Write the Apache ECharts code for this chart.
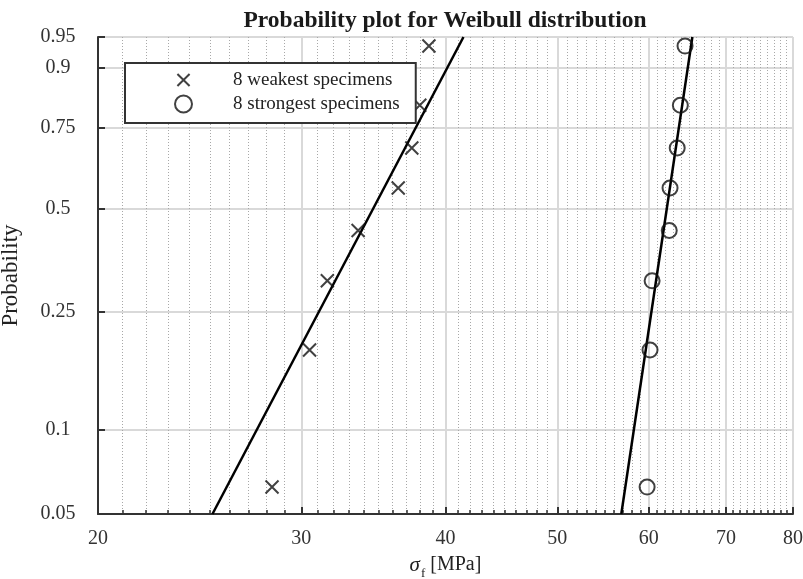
<!DOCTYPE html>
<html>
<head>
<meta charset="utf-8">
<script src="https://cdn.jsdelivr.net/npm/echarts@6/dist/echarts.min.js"></script>
<style>
  html, body { margin: 0; padding: 0; background: #fff; }
  #chart { width: 803px; height: 579px; }
</style>
</head>
<body>
<div id="chart"></div>
<script>
// ---- data ----
const xTickLabels = [20, 30, 40, 50, 60, 70, 80];
const xMinorTicks = [21, 22, 23, 24, 25, 26, 27, 28, 29,
                     31, 32, 33, 34, 35, 36, 37, 38, 39,
                     41, 42, 43, 44, 45, 46, 47, 48, 49,
                     51, 52, 53, 54, 55, 56, 57, 58, 59,
                     61, 62, 63, 64, 65, 66, 67, 68, 69,
                     71, 72, 73, 74, 75, 76, 77, 78, 79];
const probTickLabels = [0.05, 0.1, 0.25, 0.5, 0.75, 0.9, 0.95];
const rankProbs = [0.0625, 0.1875, 0.3125, 0.4375, 0.5625, 0.6875, 0.8125, 0.9375];
const weakest = [28.3, 30.5, 31.6, 33.6, 36.4, 37.4, 38.0, 38.7];
const strongest = [59.8, 60.15, 60.4, 62.5, 62.6, 63.5, 63.9, 64.5];
const fitProbs = [0.05, 0.95];
const weakFit = [25.13, 41.46];
const strongFit = [56.8, 65.45];

// ---- scale transforms (Weibull probability paper) ----
const W = p => Math.log(-Math.log(1 - p));
const L = v => Math.log(v);
const pairs = (xs, ps) => xs.map((x, i) => [L(x), W(ps[i])]);

const FONT = 'Liberation Serif';
const crossPath = 'path://M0,0L10,10M10,0L0,10';
const crossLegend = 'path://M-2,-2M12,12M0,0L10,10M10,0L0,10';

const chart = echarts.init(document.getElementById('chart'), null, { renderer: 'canvas' });
const option = {
  animation: false,
  backgroundColor: '#fff',
  title: {
    text: 'Probability plot for Weibull distribution',
    left: 445, top: 9, padding: 0, textAlign: 'center',
    textStyle: { fontFamily: FONT, fontWeight: 'bold', fontSize: 23.5, color: '#1a1a1a' }
  },
  legend: {
    orient: 'vertical', left: 125, top: 63,
    padding: [7, 16, 9, 49],
    itemWidth: 17, itemHeight: 17, itemGap: 4,
    backgroundColor: '#fff', borderColor: '#333', borderWidth: 2, borderRadius: 0,
    textStyle: { fontFamily: FONT, fontSize: 19, color: '#222', lineHeight: 20, padding: [0, 0, 0, 36] },
    data: [
      { name: '8 weakest specimens', icon: crossLegend,
        itemStyle: { color: 'rgba(0,0,0,0)', borderColor: '#111', borderWidth: 2 } },
      { name: '8 strongest specimens', icon: 'circle',
        itemStyle: { color: 'rgba(0,0,0,0)', borderColor: '#111', borderWidth: 2 } }
    ]
  },
  grid: { left: 98, right: 10, top: 37, bottom: 65, outerBoundsMode: 'none' },
  xAxis: [
    {
      type: 'value', min: L(20), max: L(80),
      name: '{s|σ}{f|f}{t| [MPa]}', nameLocation: 'middle', nameGap: 36,
      nameTextStyle: {
        fontFamily: FONT, fontSize: 20, color: '#222',
        rich: {
          s: { fontFamily: FONT, fontStyle: 'italic', fontSize: 21, color: '#222', lineHeight: 30, verticalAlign: 'middle' },
          f: { fontFamily: FONT, fontSize: 13, color: '#222', lineHeight: 30, verticalAlign: 'bottom', padding: [0, 0, 0, 1] },
          t: { fontFamily: FONT, fontSize: 20, color: '#222', lineHeight: 30, verticalAlign: 'middle' }
        }
      },
      axisLine: { show: true, onZero: false, lineStyle: { color: '#333', width: 2 } },
      axisTick: { show: true, inside: true, length: 7, lineStyle: { color: '#333', width: 2 },
                  customValues: xTickLabels.map(L) },
      axisLabel: { show: true, margin: 15, fontFamily: FONT, fontSize: 20, color: '#333',
                   customValues: xTickLabels.map(L),
                   formatter: v => String(Math.round(Math.exp(v))) },
      splitLine: { show: true, lineStyle: { color: '#d9d9d9', width: 2 } }
    },
    {
      type: 'value', min: L(20), max: L(80), position: 'bottom', offset: 0,
      axisLine: { show: false, onZero: false },
      axisTick: { show: true, inside: true, length: 4, lineStyle: { color: '#333', width: 1.5 },
                  customValues: xMinorTicks.map(L) },
      axisLabel: { show: false, customValues: xMinorTicks.map(L) },
      splitLine: { show: true, lineStyle: { color: '#a8a8a8', width: 1, type: [1, 2] } }
    }
  ],
  yAxis: {
    type: 'value', min: W(0.05), max: W(0.95),
    name: 'Probability', nameLocation: 'middle', nameGap: 76,
    nameTextStyle: { fontFamily: FONT, fontSize: 23, color: '#222' },
    axisLine: { show: true, onZero: false, lineStyle: { color: '#333', width: 2 } },
    axisTick: { show: true, inside: true, length: 7, lineStyle: { color: '#333', width: 2 },
                customValues: probTickLabels.map(W) },
    axisLabel: {
      show: true, margin: 40, align: 'center', fontFamily: FONT, fontSize: 20, color: '#333',
      customValues: probTickLabels.map(W),
      formatter: v => {
        let best = probTickLabels[0], d = Infinity;
        probTickLabels.forEach(p => { const e = Math.abs(W(p) - v); if (e < d) { d = e; best = p; } });
        return String(best);
      }
    },
    splitLine: { show: true, lineStyle: { color: '#d9d9d9', width: 2 } }
  },
  series: [
    {
      name: 'weakFit', type: 'line', xAxisIndex: 0, data: pairs(weakFit, fitProbs),
      symbol: 'none', silent: true, z: 2,
      lineStyle: { color: '#000', width: 2.5 }
    },
    {
      name: 'strongFit', type: 'line', xAxisIndex: 0, data: pairs(strongFit, fitProbs),
      symbol: 'none', silent: true, z: 2,
      lineStyle: { color: '#000', width: 2.5 }
    },
    {
      name: '8 weakest specimens', type: 'scatter', xAxisIndex: 0,
      data: pairs(weakest, rankProbs),
      symbol: crossPath, symbolSize: 13, z: 3,
      itemStyle: { color: 'rgba(0,0,0,0)', borderColor: '#111', borderWidth: 2 }
    },
    {
      name: '8 strongest specimens', type: 'scatter', xAxisIndex: 0,
      data: pairs(strongest, rankProbs),
      symbol: 'circle', symbolSize: 15, z: 3,
      itemStyle: { color: 'rgba(0,0,0,0)', borderColor: '#111', borderWidth: 2 }
    }
  ]
};
chart.setOption(option);
</script>
</body>
</html>
